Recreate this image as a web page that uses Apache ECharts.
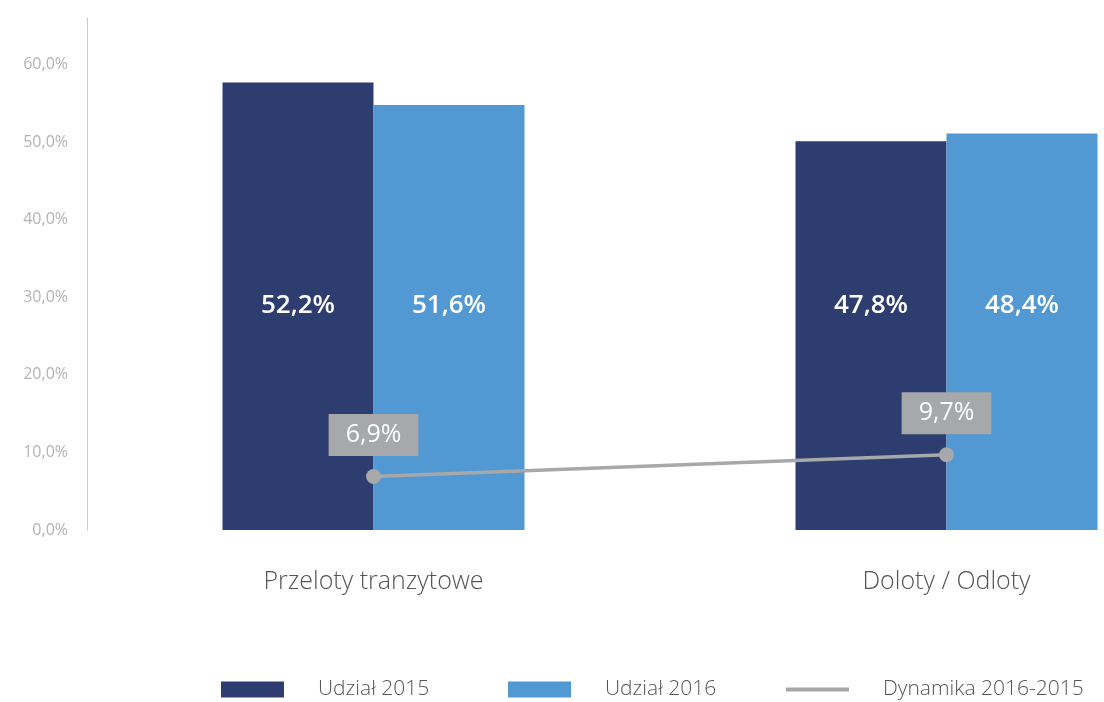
<!DOCTYPE html>
<html>
<head>
<meta charset="utf-8">
<script src="https://cdn.jsdelivr.net/npm/echarts@6/dist/echarts.min.js"></script>
<style>
	html, body { margin: 0; padding: 0; background: #fff; }
	#chart { width: 1104px; height: 702px; }
</style>
</head>
<body>
<div id="chart"></div>
<script>
var categories = ['Przeloty tranzytowe', 'Doloty / Odloty'];
// bar heights as drawn in the picture
var share2015 = [57.7, 50.1];
var share2016 = [54.8, 51.1];
// values printed on the bars
var share2015Text = ['52,2%', '47,8%'];
var share2016Text = ['51,6%', '48,4%'];
var dynamics = [6.9, 9.7];
// all bar labels sit on one line, at this axis value
var labelLevel = 28.9;

var FONT = 'Open Sans';

function pct(v) {
	return v.toFixed(1).replace('.', ',') + '%';
}

function barData(values, texts) {
	return values.map(function(v, i) {
		return {
			value: v,
			label: {
				position: ['50%', ((v - labelLevel) / v * 100) + '%'],
				formatter: texts[i]
			}
		};
	});
}

var barLabel = {
	show: true,
	color: '#fff',
	fontFamily: FONT,
	fontSize: 26,
	fontWeight: 600,
	align: 'center',
	verticalAlign: 'middle'
};

// one legend block per item so each sits where the picture has it
function legendItem(name, icon, left) {
	return {
		left: left,
		top: 679,
		padding: 0,
		itemWidth: 63,
		itemHeight: 16,
		textStyle: {
			color: '#555',
			fontFamily: FONT,
			fontSize: 21,
			fontWeight: 300,
			padding: [0, 0, 8, 29]
		},
		data: [{ name: name, icon: icon }]
	};
}

var myChart = echarts.init(document.getElementById('chart'));

var option = {
	backgroundColor: '#fff',
	animation: false,
	grid: {
		left: 87,
		top: 18,
		width: 1146,
		height: 512,
		containLabel: false,
		outerBoundsMode: 'none'
	},
	legend: [
		legendItem('Udział 2015', 'rect', 221),
		legendItem('Udział 2016', 'rect', 508),
		legendItem('Dynamika 2016-2015', 'path://M0,0 L63,0 L63,4 L0,4 Z', 786)
	],
	xAxis: {
		type: 'category',
		data: categories,
		axisLine: { show: false },
		axisTick: { show: false },
		axisLabel: {
			color: '#555',
			fontFamily: FONT,
			fontSize: 25,
			fontWeight: 300,
			margin: 39
		},
		splitLine: { show: false }
	},
	yAxis: {
		type: 'value',
		min: 0,
		max: 66,
		interval: 10,
		axisLine: {
			show: true,
			lineStyle: { color: '#cacaca', width: 1 }
		},
		axisTick: { show: false },
		splitLine: { show: false },
		axisLabel: {
			showMaxLabel: false,
			color: '#b3b3b3',
			fontFamily: FONT,
			fontSize: 16,
			fontWeight: 400,
			margin: 19,
			padding: [0, 0, 7, 0],
			formatter: function(v) { return pct(v); }
		}
	},
	series: [{
		name: 'Udział 2015',
		type: 'bar',
		barWidth: 151,
		barGap: '0%',
		itemStyle: { color: '#2e3d6f' },
		label: barLabel,
		data: barData(share2015, share2015Text)
	}, {
		name: 'Udział 2016',
		type: 'bar',
		barWidth: 151,
		barGap: '0%',
		itemStyle: { color: '#5298d3' },
		label: barLabel,
		data: barData(share2016, share2016Text)
	}, {
		name: 'Dynamika 2016-2015',
		type: 'line',
		z: 5,
		symbol: 'circle',
		symbolSize: 15,
		itemStyle: { color: '#a6a8a9' },
		lineStyle: { color: '#a6a8a9', width: 3.5 },
		label: {
			show: true,
			position: 'top',
			distance: 13,
			color: '#fff',
			fontFamily: FONT,
			fontSize: 25,
			fontWeight: 500,
			backgroundColor: '#a6a8a9',
			padding: [8, 17, 8, 17],
			lineHeight: 26,
			formatter: function(p) { return pct(p.value); }
		},
		data: dynamics
	}]
};

myChart.setOption(option);
</script>
</body>
</html>
